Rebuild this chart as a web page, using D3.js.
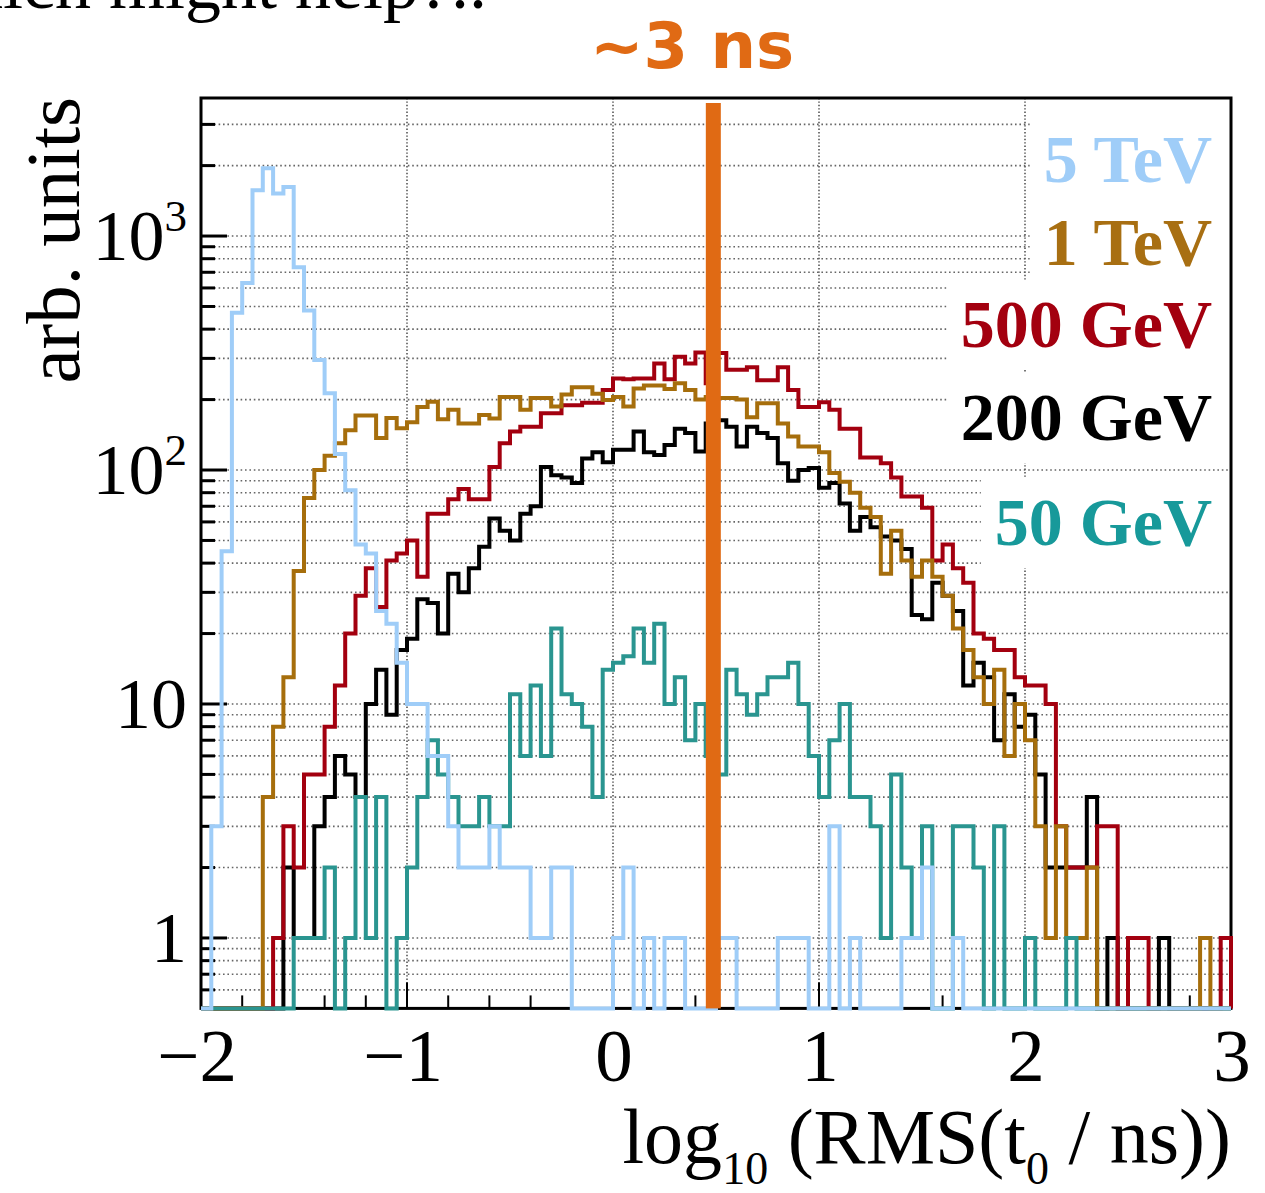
<!DOCTYPE html>
<html><head><meta charset="utf-8">
<script src="https://cdn.jsdelivr.net/npm/d3@7"></script>
<style>body{margin:0;background:#fff}svg{display:block}</style>
</head><body>
<svg id="c" width="1265" height="1193"></svg>
<script>
// ---------- data ----------
const binLow = -2, binHigh = 3, nBins = 100;
const xTickLabels = ["\u22122", "\u22121", "0", "1", "2", "3"];
const xTickValues = [-2, -1, 0, 1, 2, 3];
const yTickValues = [1, 10, 100, 1000];
const legendLabels = ["5 TeV", "1 TeV", "500 GeV", "200 GeV", "50 GeV"];
const markerValue = 0.487; // ~3 ns
const markerLabel = "~3 ns";

const h5TeV = [0,3,45,470,630,1570,1950,1520,1620,735,
 480,295,213,117,82,48,44,25,22,15,
 10,10,6,6,3,2,2,2,3,2,
 2,2,1,1,2,2,0,0,0,0,
 1,2,0,1,0,1,1,0,0,0,
 1,1,0,0,0,0,1,1,1,0,
 0,3,0,1,0,0,0,0,1,1,
 2,0,0,1,0,0,0,0,0,0,
 0,0,0,0,0,0,0,0,0,0,
 0,0,0,0,0,0,0,0,0,0];
const h1TeV = [0,0,0,0,0,0,4,8,13,37,
 76,100,115,130,148,171,171,137,167,151,
 160,186,196,165,181,158,158,172,166,205,
 205,181,203,203,187,210,226,226,212,199,
 205,187,223,230,230,222,235,220,200,205,
 203,203,200,168,193,193,158,139,126,126,
 119,97,89,80,69,63,36,55,41,35,
 41,35,29,21,17,13,10,14,6,10,
 7,3,1,3,1,1,2,0,0,0,
 0,0,0,0,0,0,0,1,0,0];
const h500GeV = [0,0,0,0,0,0,0,1,3,2,
 5,5,8,12,20,29,38,26,41,44,
 50,35,65,65,75,83,75,75,103,130,
 146,153,153,175,175,189,189,194,194,220,
 246,244,246,246,285,244,305,285,318,235,
 316,268,268,275,242,242,275,220,186,186,
 195,181,150,150,113,113,107,93,77,77,
 69,41,48,38,33,20,19,17,17,13,
 12,12,10,3,2,2,2,3,3,0,
 1,1,0,0,0,0,0,0,0,1];
const h200GeV = [0,0,0,0,0,0,0,0,2,1,
 1,3,4,6,5,4,10,14,9,17,
 19,28,27,20,36,30,38,47,62,55,
 50,65,70,103,95,93,88,112,119,108,
 122,122,146,119,116,128,150,144,120,158,
 163,153,126,153,144,137,107,90,100,102,
 84,88,72,55,63,57,52,50,46,24,
 23,33,29,25,12,15,13,7,11,8,
 9,5,2,2,2,2,4,0,1,0,
 0,0,0,1,0,0,0,0,0,0];
const h50GeV = [0,0,0,0,0,0,0,0,0,1,
 1,1,2,0,1,4,1,4,0,1,
 2,4,7,5,4,3,3,4,3,3,
 11,6,12,6,21,11,10,8,4,14,
 15,16,21,15,22,10,13,7,10,6,
 5,14,11,9,11,13,13,15,10,6,
 4,7,10,4,4,3,1,5,2,1,
 3,0,0,3,3,2,0,3,0,0,
 1,0,0,0,1,0,0,0,0,0,
 0,0,0,0,0,0,0,0,0,0];

// ---------- layout ----------
const L = 201, R = 1231, T = 98, B = 1008.4;
const svg = d3.select("#c");
const x = d3.scaleLinear().domain([binLow, binHigh]).range([L, R]);
const y = d3.scaleLog().domain([0.5, 3890]).range([B, T]);
const edges = d3.range(nBins + 1).map(i => binLow + i * (binHigh - binLow) / nBins);

const serif = "'Liberation Serif','Times New Roman',serif";

// cut-off slide text at top (it is cropped in the original too)
svg.append("text").attr("x", -85).attr("y", 8)
  .attr("font-family", serif).attr("font-size", 72).attr("fill", "#000")
  .text("which might help?..");

// grid
const yGrid = y.ticks().filter(v => v > 0.5 && v < 3890);
svg.append("g").selectAll("line").data(yGrid).join("line")
  .attr("x1", L).attr("x2", R).attr("y1", d => y(d)).attr("y2", d => y(d))
  .attr("stroke", "#666").attr("stroke-width", 1.6).attr("stroke-dasharray", "1.6,2.8");
svg.append("g").selectAll("line").data([-1, 0, 1, 2]).join("line")
  .attr("x1", d => x(d)).attr("x2", d => x(d)).attr("y1", T).attr("y2", B)
  .attr("stroke", "#555").attr("stroke-width", 1.6).attr("stroke-dasharray", "1.4,2");

// frame
svg.append("rect").attr("x", L).attr("y", T).attr("width", R - L).attr("height", B - T)
  .attr("fill", "none").attr("stroke", "#000").attr("stroke-width", 3);

// ticks
const isMajorY = v => Math.abs(Math.log10(v) - Math.round(Math.log10(v))) < 1e-9;
svg.append("g").selectAll("line").data(yGrid).join("line")
  .attr("x1", L).attr("x2", d => L + (isMajorY(d) ? 26 : 14))
  .attr("y1", d => y(d)).attr("y2", d => y(d))
  .attr("stroke", "#000").attr("stroke-width", 3);
const xMinor = d3.range(0, 26).map(i => binLow + i * 0.2);
svg.append("g").selectAll("line").data(xMinor).join("line")
  .attr("x1", d => x(d)).attr("x2", d => x(d))
  .attr("y1", B).attr("y2", d => B - (Math.abs(d - Math.round(d)) < 1e-6 ? 26 : 13))
  .attr("stroke", "#000").attr("stroke-width", 2);

// legend
const legendColors = ["#9fcdf8", "#a86f12", "#a3000f", "#000000", "#17999a"];
const legendBase = [182, 265, 347, 440, 545];
const lg = svg.append("g");
legendLabels.forEach((t, i) => {
  const tx = lg.append("text").attr("x", 1212).attr("y", legendBase[i])
    .attr("text-anchor", "end").attr("font-family", serif).attr("font-weight", "bold")
    .attr("font-size", 68).attr("fill", legendColors[i]).text(t);
  const bb = tx.node().getBBox();
  lg.insert("rect", "text").attr("x", bb.x - 14).attr("y", bb.y - 6)
    .attr("width", R - 2 - (bb.x - 14)).attr("height", bb.height + 14).attr("fill", "#fff");
});

// histograms
const line = d3.line().curve(d3.curveStepAfter).x(d => x(d[0])).y(d => d[1] > 0 ? y(d[1]) : B);
function pts(vals) {
  const p = [[edges[0], 0]];
  vals.forEach((v, i) => p.push([edges[i], v]));
  p.push([edges[nBins], vals[nBins - 1]]);
  p.push([edges[nBins], 0]);
  return p;
}
const hist = [
  [h200GeV, "#000000"],
  [h500GeV, "#a3000f"],
  [h1TeV, "#a66e0c"],
  [h50GeV, "#2a9590"],
  [h5TeV, "#9fcdf8"]
];
hist.forEach(([vals, col]) => {
  svg.append("path").attr("d", line(pts(vals))).attr("fill", "none")
    .attr("stroke", col).attr("stroke-width", 4).attr("stroke-linejoin", "miter");
});

// orange marker
svg.append("rect").attr("x", x(markerValue) - 7.5).attr("y", 103).attr("width", 15)
  .attr("height", B - 103).attr("fill", "#e06a14");
svg.append("text").attr("x", 692).attr("y", 68).attr("text-anchor", "middle")
  .attr("font-family", "'DejaVu Sans',sans-serif").attr("font-weight", "bold")
  .attr("font-size", 64).attr("fill", "#e06a14").text(markerLabel);

// x tick labels
svg.append("g").selectAll("text").data(xTickValues).join("text")
  .attr("x", d => x(d) + (d < 0 ? -4 : 1)).attr("y", 1081).attr("text-anchor", "middle")
  .attr("font-family", serif).attr("font-size", 75).attr("fill", "#000")
  .text((d, i) => xTickLabels[i]);

// y tick labels
const yl = svg.append("g");
yTickValues.forEach(v => {
  const e = Math.round(Math.log10(v));
  const t = yl.append("text").attr("x", 187).attr("y", y(v) + 24).attr("text-anchor", "end")
    .attr("font-family", serif).attr("font-size", 72).attr("fill", "#000");
  if (e >= 2) {
    t.append("tspan").text("10");
    t.append("tspan").attr("font-size", 45).attr("dy", -29).text(String(e));
  } else {
    t.text(String(v));
  }
});

// axis titles
const xt = svg.append("text").attr("x", 1231).attr("y", 1163).attr("text-anchor", "end")
  .attr("font-family", serif).attr("font-size", 78).attr("fill", "#000");
xt.append("tspan").text("log");
xt.append("tspan").attr("font-size", 46).attr("dy", 21).text("10");
xt.append("tspan").attr("dy", -21).text(" (RMS(t");
xt.append("tspan").attr("font-size", 46).attr("dy", 21).text("0");
xt.append("tspan").attr("dy", -21).text(" / ns))");

svg.append("text").attr("transform", "translate(79,97) rotate(-90)")
  .attr("text-anchor", "end").attr("font-family", serif).attr("font-size", 77)
  .attr("fill", "#000").text("arb. units");
</script>
</body></html>
